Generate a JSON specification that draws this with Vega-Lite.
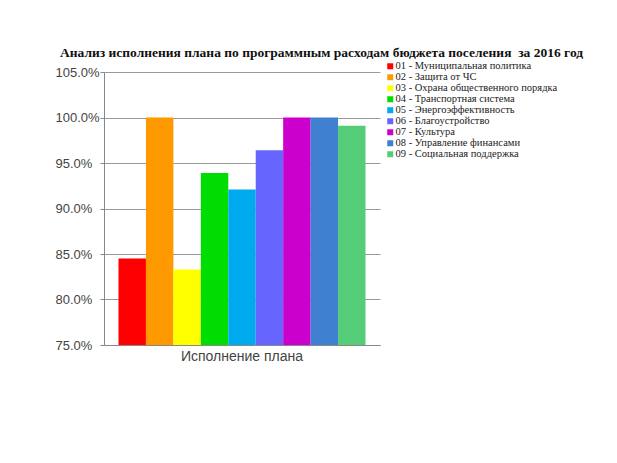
{
  "$schema": "https://vega.github.io/schema/vega-lite/v6.json",
  "autosize": "none",
  "width": 276,
  "height": 273,
  "padding": {"left": 104, "top": 72, "right": 237, "bottom": 118},
  "background": "white",
  "title": {
    "text": "Анализ исполнения плана по программным расходам бюджета поселения\u00a0 за 2016 год",
    "font": "Liberation Serif",
    "fontSize": 13.5,
    "fontWeight": "bold",
    "color": "#111",
    "anchor": "start",
    "frame": "group",
    "dx": -44,
    "dy": 10,
    "offset": 12
  },
  "data": {
    "values": [
      {"group": "Исполнение плана", "program": "01 - Муниципальная политика", "value": 0.845},
      {"group": "Исполнение плана", "program": "02 - Защита от ЧС", "value": 1.0},
      {"group": "Исполнение плана", "program": "03 - Охрана общественного порядка", "value": 0.833},
      {"group": "Исполнение плана", "program": "04 - Транспортная система", "value": 0.939},
      {"group": "Исполнение плана", "program": "05 - Энергоэффективность", "value": 0.921},
      {"group": "Исполнение плана", "program": "06 - Благоустройство", "value": 0.964},
      {"group": "Исполнение плана", "program": "07 - Культура", "value": 1.0},
      {"group": "Исполнение плана", "program": "08 - Управление финансами", "value": 1.0},
      {"group": "Исполнение плана", "program": "09 - Социальная поддержка", "value": 0.991}
    ]
  },
  "mark": {"type": "bar", "clip": true},
  "encoding": {
    "x": {
      "field": "group",
      "type": "nominal",
      "title": null,
      "scale": {"paddingInner": 0, "paddingOuter": 0.0587},
      "axis": {
        "labelAngle": 0,
        "labelFont": "Liberation Sans",
        "labelFontSize": 14,
        "labelColor": "#444",
        "domainColor": "#888",
        "tickColor": "#888",
        "ticks": false,
        "labelPadding": 4
      }
    },
    "xOffset": {"field": "program", "type": "nominal", "scale": {"paddingInner": 0}},
    "y": {
      "field": "value",
      "type": "quantitative",
      "title": null,
      "scale": {"domain": [0.75, 1.05], "zero": false, "nice": false},
      "axis": {
        "values": [0.75, 0.8, 0.85, 0.9, 0.95, 1.0, 1.05],
        "format": ".1%",
        "labelFont": "Liberation Sans",
        "labelFontSize": 13,
        "labelColor": "#444",
        "labelAlign": "left",
        "domainColor": "#888",
        "tickColor": "#888",
        "tickSize": 4,
        "labelPadding": 45,
        "gridColor": "#999",
        "grid": true
      }
    },
    "color": {
      "field": "program",
      "type": "nominal",
      "title": null,
      "scale": {
        "range": ["#FF0000", "#FF9900", "#FFFF00", "#00DD00", "#00AAEE", "#6666FF", "#CC00CC", "#4080D0", "#55CC77"]
      },
      "legend": {
        "orient": "none",
        "legendX": 281,
        "legendY": -11,
        "symbolType": "square",
        "symbolSize": 36,
        "symbolStrokeWidth": 0,
        "labelFont": "Liberation Serif",
        "labelFontSize": 10.5,
        "labelColor": "#222",
        "rowPadding": 0,
        "labelOffset": 0,
        "labelLimit": 300
      }
    }
  },
  "config": {"view": {"stroke": null}}
}
